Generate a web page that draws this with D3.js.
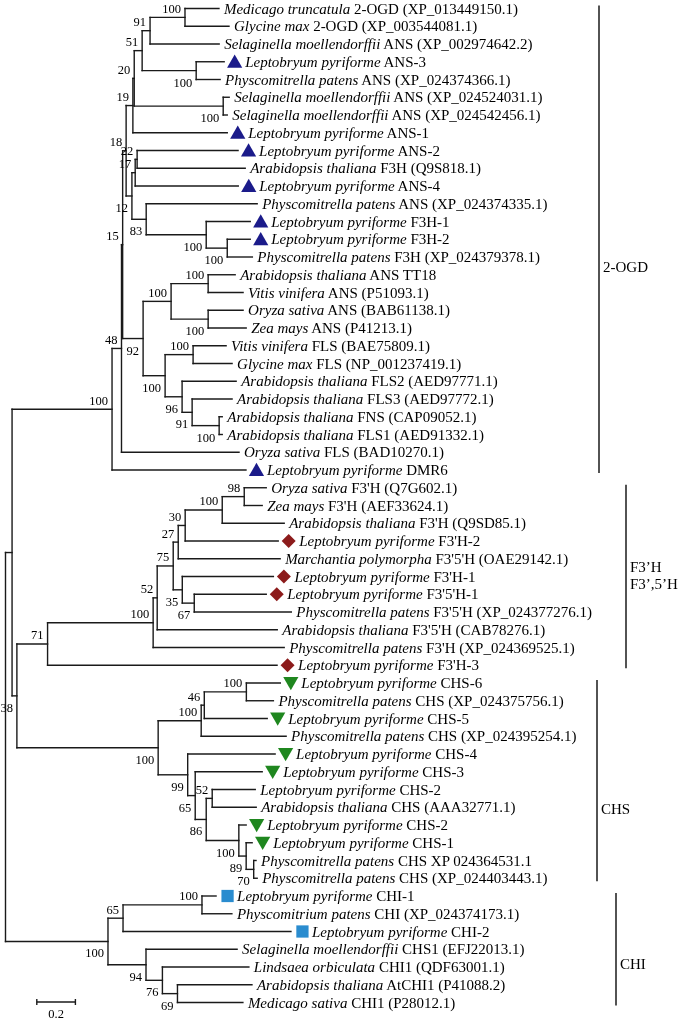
<!DOCTYPE html>
<html><head><meta charset="utf-8">
<script src="https://cdn.jsdelivr.net/npm/d3@7"></script>
<style>body{margin:0;background:#fff} svg{will-change:transform} text{opacity:0.999}</style>
</head><body>
<svg id="chart" width="679" height="1020"></svg>
<script>
// ---------- DATA ----------
const leafSpecies = [
"Medicago truncatula","Glycine max","Selaginella moellendorffii","Leptobryum pyriforme","Physcomitrella patens",
"Selaginella moellendorffii","Selaginella moellendorffii","Leptobryum pyriforme","Leptobryum pyriforme","Arabidopsis thaliana",
"Leptobryum pyriforme","Physcomitrella patens","Leptobryum pyriforme","Leptobryum pyriforme","Physcomitrella patens",
"Arabidopsis thaliana","Vitis vinifera","Oryza sativa","Zea mays","Vitis vinifera",
"Glycine max","Arabidopsis thaliana","Arabidopsis thaliana","Arabidopsis thaliana","Arabidopsis thaliana",
"Oryza sativa","Leptobryum pyriforme",
"Oryza sativa","Zea mays","Arabidopsis thaliana","Leptobryum pyriforme","Marchantia polymorpha",
"Leptobryum pyriforme","Leptobryum pyriforme","Physcomitrella patens","Arabidopsis thaliana","Physcomitrella patens",
"Leptobryum pyriforme",
"Leptobryum pyriforme","Physcomitrella patens","Leptobryum pyriforme","Physcomitrella patens","Leptobryum pyriforme",
"Leptobryum pyriforme","Leptobryum pyriforme","Arabidopsis thaliana","Leptobryum pyriforme","Leptobryum pyriforme",
"Physcomitrella patens","Physcomitrella patens",
"Leptobryum pyriforme","Physcomitrium patens","Leptobryum pyriforme","Selaginella moellendorffii","Lindsaea orbiculata",
"Arabidopsis thaliana","Medicago sativa"];
const leafGenes = [
"2-OGD (XP_013449150.1)","2-OGD (XP_003544081.1)","ANS (XP_002974642.2)","ANS-3","ANS (XP_024374366.1)",
"ANS (XP_024524031.1)","ANS (XP_024542456.1)","ANS-1","ANS-2","F3H (Q9S818.1)",
"ANS-4","ANS (XP_024374335.1)","F3H-1","F3H-2","F3H (XP_024379378.1)",
"ANS TT18","ANS (P51093.1)","ANS (BAB61138.1)","ANS (P41213.1)","FLS (BAE75809.1)",
"FLS (NP_001237419.1)","FLS2 (AED97771.1)","FLS3 (AED97772.1)","FNS (CAP09052.1)","FLS1 (AED91332.1)",
"FLS (BAD10270.1)","DMR6",
"F3'H (Q7G602.1)","F3'H (AEF33624.1)","F3'H (Q9SD85.1)","F3'H-2","F3'5'H (OAE29142.1)",
"F3'H-1","F3'5'H-1","F3'5'H (XP_024377276.1)","F3'5'H (CAB78276.1)","F3'H (XP_024369525.1)",
"F3'H-3",
"CHS-6","CHS (XP_024375756.1)","CHS-5","CHS (XP_024395254.1)","CHS-4",
"CHS-3","CHS-2","CHS (AAA32771.1)","CHS-2","CHS-1",
"CHS XP 024364531.1","CHS (XP_024403443.1)",
"CHI-1","CHI (XP_024374173.1)","CHI-2","CHS1 (EFJ22013.1)","CHI1 (QDF63001.1)",
"AtCHI1 (P41088.2)","CHI1 (P28012.1)"];
const leafMarkers = [
"","","","up","","","","up","up","",
"up","","up","up","","","","","","",
"","","","","","","up",
"","","","diamond","","diamond","diamond","","","","diamond",
"down","","down","","down","down","","","down","down","","",
"square","","square","","","",""];

// [child, parent, branch length]
const edges = [
["A","root",0.034],
["OGD","A",0.518],
["N48","OGD",0.049],
["N15","N48",0.006],
["N18","N15",0.018],
["N19","N18",0.035],
["N20","N19",0.007],
["N51","N20",0.041],
["N91","N51",0.041],
["N100a","N91",0.181],
["L1","N100a",0.176],
["L2","N100a",0.228],
["L3","N91",0.358],
["N100b","N51",0.280],
["L4","N100b",0.145],
["L5","N100b",0.124],
["N100c","N20",0.461],
["L6","N100c",0.031],
["L7","N100c",0.021],
["L8","N19",0.489],
["N12","N18",0.030],
["N17","N12",0.017],
["N22","N17",0.010],
["L9","N22",0.523],
["L10","N22",0.560],
["L11","N17",0.534],
["N83","N12",0.074],
["L12","N83",0.575],
["N100d","N83",0.311],
["L13","N100d",0.228],
["N100e","N100d",0.109],
["L14","N100e",0.119],
["L15","N100e",0.130],
["N92","N15",0.106],
["Y","N92",0.145],
["N100t","Y",0.192],
["L16","N100t",0.140],
["L17","N100t",0.181],
["N100o","Y",0.192],
["L18","N100o",0.181],
["L19","N100o",0.197],
["Z","N92",0.114],
["N100v","Z",0.145],
["L20","N100v",0.171],
["L21","N100v",0.202],
["W","Z",0.088],
["L22","W",0.280],
["V","W",0.052],
["L23","V",0.207],
["N100f","V",0.140],
["L24","N100f",0.016],
["L25","N100f",0.016],
["L26","N48",0.609],
["L27","OGD",0.694],
["B","A",0.025],
["F71","B",0.159],
["F100","F71",0.547],
["F52","F100",0.021],
["F75","F52",0.083],
["F27","F75",0.026],
["F30","F27",0.036],
["F100b","F30",0.192],
["F98","F100b",0.114],
["L28","F98",0.114],
["L29","F98",0.093],
["L30","F100b",0.321],
["L31","F30",0.482],
["L32","F27",0.528],
["F35","F75",0.047],
["L33","F35",0.472],
["F67","F35",0.062],
["L34","F67",0.373],
["L35","F67",0.503],
["L36","F52",0.622],
["L37","F100",0.679],
["L38","F71",1.189],
["C100","B",0.732],
["C100b","C100",0.223],
["C46","C100b",0.016],
["C100c","C46",0.218],
["L39","C100c",0.176],
["L40","C100c",0.140],
["L41","C46",0.326],
["L42","C100b",0.440],
["C99","C100",0.153],
["L43","C99",0.453],
["C65","C99",0.039],
["L44","C65",0.347],
["C86","C65",0.057],
["C52","C86",0.031],
["L45","C52",0.223],
["L46","C52",0.228],
["C100d","C86",0.169],
["L47","C100d",0.038],
["C89","C100d",0.038],
["L48","C89",0.031],
["C70","C89",0.039],
["L49","C70",0.012],
["L50","C70",0.018],
["H100","root",0.531],
["H65","H100",0.078],
["H100b","H65",0.409],
["L51","H100b",0.073],
["L52","H100b",0.155],
["L53","H65",0.870],
["H94","H100",0.197],
["L54","H94",0.472],
["H76","H94",0.085],
["L55","H76",0.448],
["H69","H76",0.078],
["L56","H69",0.386],
["L57","H69",0.339]
];

const supports = [
["OGD",100],["N48",48],["N15",15],["N18",18],["N19",19],["N20",20],["N51",51],["N91",91],
["N100a",100],["N100b",100],["N100c",100],["N12",12],["N17",17],["N22",22],["N83",83],
["N100d",100],["N100e",100],["N92",92],["Y",100],["N100t",100],["N100o",100],["Z",100],
["N100v",100],["W",96],["V",91],["N100f",100],["B",38],
["F71",71],["F100",100],["F52",52],["F75",75],["F27",27],["F30",30],["F100b",100],["F98",98],
["F35",35],["F67",67],
["C100",100],["C100b",100],["C46",46],["C100c",100],["C99",99],["C65",65],["C86",86],["C52",52],
["C100d",100],["C89",89],["C70",70],
["H100",100],["H65",65],["H100b",100],["H94",94],["H76",76],["H69",69]
];

const cladeNames = [["2-OGD"],["F3\u2019H","F3\u2019,5\u2019H"],["CHS"],["CHI"]];
const cladeFirstLeaf = [1,28,39,51];
const cladeLastLeaf = [27,38,50,57];
const scaleBarValue = 0.2;

// ---------- LAYOUT ----------
const svg = d3.select("#chart");
const serif = "'Liberation Serif','Times New Roman',serif";
const leafFont = 15, supFont = 12.5, cladeFont = 15;

const rows = [{id:"root", parentId:null, len:0}].concat(edges.map(e=>({id:e[0], parentId:e[1], len:e[2]})));
const root = d3.stratify().id(d=>d.id).parentId(d=>d.parentId)(rows);
root.eachBefore(n => { n.dist = n.parent ? n.parent.dist + n.data.len : 0; });

const x = d3.scaleLinear().domain([0, 1]).range([5.5, 198.5]);
const leaves = root.leaves();
const y = d3.scaleLinear().domain([0, leaves.length - 1]).range([8.5, 1002.5]);
leaves.forEach((l, i) => { l.py = y(i); });
root.eachAfter(n => { if (n.children) n.py = (n.children[0].py + n.children[n.children.length-1].py) / 2; });

const gTree = svg.append("g").attr("stroke", "#1a1a1a").attr("stroke-width", 1.4).attr("fill", "none").attr("stroke-linecap", "square");
root.descendants().filter(n => n.parent).forEach(n => {
  gTree.append("line").attr("x1", x(n.parent.dist)).attr("x2", x(n.dist)).attr("y1", n.py).attr("y2", n.py);
});
root.descendants().filter(n => n.children).forEach(n => {
  gTree.append("line").attr("x1", x(n.dist)).attr("x2", x(n.dist))
    .attr("y1", n.children[0].py).attr("y2", n.children[n.children.length-1].py);
});

// support values
const supMap = new Map(supports);
const gSup = svg.append("g").attr("font-family", serif).attr("font-size", supFont).attr("fill", "#000");
root.descendants().filter(n => supMap.has(n.id)).forEach(n => {
  const upper = n.parent.children[0] === n;
  gSup.append("text").attr("x", x(n.dist) - 4).attr("y", n.py + (upper ? -8.5 : 12))
    .attr("text-anchor", "end").attr("dominant-baseline", "central").text(supMap.get(n.id));
});

// markers + leaf labels
const markerColor = {up:"#1b1b8a", diamond:"#8c1b1b", down:"#1f871f", square:"#2a8ccf"};
const gLeaf = svg.append("g").attr("font-family", serif).attr("font-size", leafFont).attr("fill", "#000");
leaves.forEach((l, i) => {
  const tip = x(l.dist);
  const m = leafMarkers[i];
  let tx = tip + 5;
  if (m) {
    const cx = tip + 10.5;
    let path, tr;
    if (m === "up") { path = d3.symbol(d3.symbolTriangle, 100)(); tr = `translate(${cx},${l.py + 1.6})`; }
    else if (m === "down") { path = d3.symbol(d3.symbolTriangle, 100)(); tr = `translate(${cx},${l.py - 1.6}) rotate(180)`; }
    else if (m === "diamond") { path = d3.symbol(d3.symbolSquare, 98)(); tr = `translate(${cx},${l.py}) rotate(45)`; }
    else { path = d3.symbol(d3.symbolSquare, 150)(); tr = `translate(${cx + 1},${l.py})`; }
    svg.append("path").attr("d", path).attr("transform", tr).attr("fill", markerColor[m]);
    tx = tip + 21;
  }
  const t = gLeaf.append("text").attr("x", tx).attr("y", l.py).attr("dominant-baseline", "central");
  t.append("tspan").attr("font-style", "italic").text(leafSpecies[i]);
  t.append("tspan").text(" " + leafGenes[i]);
});

// clade brackets
const bracketX = [599, 626, 597, 616];
const labelDy = [28, -10, 28, 15];
const gClade = svg.append("g").attr("font-family", serif).attr("font-size", cladeFont).attr("fill", "#000");
cladeNames.forEach((names, k) => {
  const y0 = y(cladeFirstLeaf[k] - 1) - 3, y1 = y(cladeLastLeaf[k] - 1) + 3;
  svg.append("line").attr("x1", bracketX[k]).attr("x2", bracketX[k]).attr("y1", y0).attr("y2", y1)
    .attr("stroke", "#1a1a1a").attr("stroke-width", 1.5);
  const mid = (y0 + y1) / 2 + labelDy[k];
  names.forEach((nm, j) => {
    gClade.append("text").attr("x", bracketX[k] + 4).attr("y", mid + j * 17)
      .attr("dominant-baseline", "central").text(nm);
  });
});

// scale bar
const sbX0 = 36.8, sbY = 1002;
const sbLen = x(scaleBarValue) - x(0);
const gSb = svg.append("g").attr("stroke", "#1a1a1a").attr("stroke-width", 1.4);
gSb.append("line").attr("x1", sbX0).attr("x2", sbX0 + sbLen).attr("y1", sbY).attr("y2", sbY);
gSb.append("line").attr("x1", sbX0).attr("x2", sbX0).attr("y1", sbY - 3).attr("y2", sbY + 3);
gSb.append("line").attr("x1", sbX0 + sbLen).attr("x2", sbX0 + sbLen).attr("y1", sbY - 3).attr("y2", sbY + 3);
svg.append("text").attr("x", sbX0 + sbLen / 2).attr("y", 1014).attr("text-anchor", "middle")
  .attr("dominant-baseline", "central").attr("font-family", serif).attr("font-size", supFont).attr("fill", "#000")
  .text(String(scaleBarValue));
</script>
</body></html>
